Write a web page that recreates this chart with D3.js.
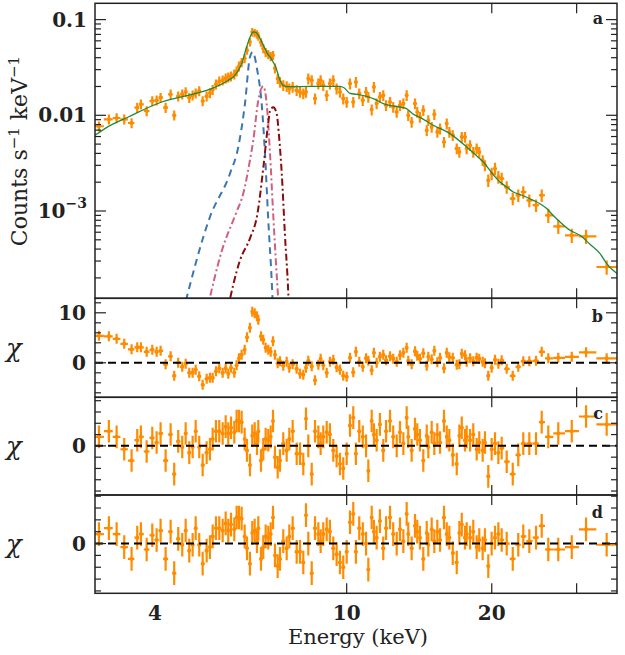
<!DOCTYPE html>
<html>
<head>
<meta charset="utf-8">
<script src="https://cdn.jsdelivr.net/npm/d3@7"></script>
<style>
  body { margin: 0; background: #fff; }
</style>
</head>
<body>
<div id="chart"></div>
<script>
// ---- data ----
// bin centres, keV
const energy = [3.062, 3.211, 3.332, 3.455, 3.579, 3.677, 3.742, 3.846, 3.951, 4.034,
  4.111, 4.211, 4.313, 4.387, 4.472, 4.559, 4.634, 4.714, 4.791, 4.861,
  4.944, 5.026, 5.123, 5.204, 5.272, 5.356, 5.441, 5.530, 5.610, 5.680,
  5.754, 5.846, 5.912, 5.978, 6.055, 6.143, 6.211, 6.300, 6.370, 6.444,
  6.515, 6.556, 6.641, 6.713, 6.791, 6.876, 6.956, 7.033, 7.100, 7.192,
  7.272, 7.387, 7.508, 7.603, 7.726, 7.876, 8.002, 8.128, 8.234, 8.325,
  8.462, 8.596, 8.734, 8.831, 8.942, 9.090, 9.231, 9.380, 9.532, 9.685,
  9.838, 10.00, 10.16, 10.32, 10.45, 10.62, 10.80, 10.97, 11.09, 11.27,
  11.39, 11.54, 11.72, 11.91, 12.07, 12.30, 12.49, 12.70, 12.90, 13.11,
  13.32, 13.42, 13.64, 13.86, 14.01, 14.19, 14.42, 14.66, 14.77, 15.01,
  15.20, 15.42, 15.62, 15.92, 16.13, 16.33, 16.60, 16.92, 17.13, 17.33,
  17.60, 17.74, 18.03, 18.31, 18.61, 18.84, 19.15, 19.36, 19.67, 19.99,
  20.31, 20.64, 20.97, 21.48, 22.11, 22.70, 23.25, 23.93, 24.71, 25.39,
  26.20, 27.48, 29.31, 31.38, 34.63];

// counts s^-1 keV^-1
const flux = [0.00768, 0.00908, 0.00937, 0.00908, 0.00831, 0.01204, 0.01303, 0.01109, 0.01411, 0.01435,
  0.01531, 0.01204, 0.01657, 0.0100, 0.01580, 0.01657, 0.01751, 0.01531, 0.01618, 0.01698,
  0.01793, 0.01411, 0.01580, 0.01710, 0.01855, 0.02108, 0.02266, 0.02321, 0.02435, 0.02495,
  0.02556, 0.02682, 0.02882, 0.03251, 0.03579, 0.03940, 0.04777, 0.05833, 0.07420, 0.07244,
  0.07021, 0.06692, 0.05791, 0.05013, 0.04553, 0.04339, 0.04135, 0.04236, 0.03099, 0.02418,
  0.02228, 0.02058, 0.02009, 0.01901, 0.01976, 0.01825, 0.01751, 0.01686, 0.01751, 0.02418,
  0.02321, 0.01494, 0.02144, 0.02321, 0.02058, 0.01618, 0.02144, 0.02321, 0.01901, 0.01751,
  0.01494, 0.01377, 0.02144, 0.01377, 0.02228, 0.01686, 0.01435, 0.01751, 0.01553, 0.01147,
  0.01976, 0.01326, 0.01553, 0.01618, 0.01272, 0.01377, 0.01221, 0.01083, 0.01272, 0.01326,
  0.01618, 0.0100, 0.00851, 0.01326, 0.01083, 0.00960, 0.01128, 0.00697, 0.00887, 0.00754,
  0.01024, 0.00669, 0.00726, 0.00526, 0.00819, 0.00669, 0.00618, 0.00449, 0.00413, 0.00593,
  0.00593, 0.00449, 0.00486, 0.00413, 0.00449, 0.00413, 0.00339, 0.00300, 0.00209, 0.00246,
  0.00277, 0.00227, 0.00218, 0.00178, 0.00135, 0.00146, 0.00158, 0.00129, 0.00115, 0.00146,
  0.000902, 0.000692, 0.000557, 0.000544, 0.000260];

// relative 1-sigma error on flux
const fluxErr = [0.12, 0.12, 0.12, 0.12, 0.12, 0.12, 0.12, 0.12, 0.12, 0.12,
  0.12, 0.12, 0.12, 0.12, 0.12, 0.12, 0.12, 0.12, 0.12, 0.12,
  0.12, 0.12, 0.12, 0.12, 0.12, 0.12, 0.12, 0.12, 0.12, 0.12,
  0.12, 0.12, 0.12, 0.12, 0.11, 0.11, 0.10, 0.10, 0.10, 0.10,
  0.10, 0.10, 0.10, 0.11, 0.11, 0.11, 0.11, 0.11, 0.12, 0.12,
  0.13, 0.13, 0.13, 0.13, 0.13, 0.13, 0.13, 0.13, 0.13, 0.13,
  0.13, 0.13, 0.13, 0.13, 0.13, 0.13, 0.13, 0.13, 0.13, 0.13,
  0.13, 0.13, 0.13, 0.13, 0.13, 0.13, 0.13, 0.13, 0.13, 0.13,
  0.13, 0.13, 0.13, 0.13, 0.13, 0.13, 0.13, 0.13, 0.13, 0.13,
  0.13, 0.13, 0.13, 0.13, 0.13, 0.13, 0.13, 0.13, 0.13, 0.13,
  0.13, 0.13, 0.13, 0.13, 0.13, 0.13, 0.13, 0.13, 0.13, 0.13,
  0.13, 0.13, 0.13, 0.13, 0.13, 0.13, 0.13, 0.13, 0.15, 0.15,
  0.15, 0.15, 0.15, 0.15, 0.15, 0.15, 0.15, 0.15, 0.15, 0.15,
  0.17, 0.17, 0.17, 0.17, 0.17];

// residuals (chi) for the three models
const chiB = [5.4, 5.3, 4.8, 3.8, 2.7, 3.1, 3.1, 2.2, 2.6, 2.2,
  2.4, -0.3, 1.3, -2.6, 0.0, -0.8, -0.2, -2.0, -2.0, -1.4,
  -2.7, -4.4, -3.2, -3.0, -3.0, -1.7, -1.1, -2.0, -1.1, -2.2,
  -1.0, -2.0, -0.5, 0.9, 1.6, 2.6, 5.1, 7.0, 10.2, 9.9,
  9.3, 8.6, 5.3, 4.6, 3.0, 2.6, 2.2, 4.3, 1.6, -0.1,
  0.3, -0.6, 0.2, -1.0, -0.3, -1.2, -2.2, -2.4, -1.0, 0.4,
  -0.7, -3.5, -0.4, 0.8, -0.5, -2.0, 0.2, 0.6, -0.9, -1.4,
  -2.6, -2.8, 1.0, -1.9, 2.2, 0.2, -0.8, 0.9, 0.4, -1.5,
  2.0, 0.0, 1.2, 1.6, 0.5, 1.3, 0.8, 0.2, 1.5, 2.0,
  3.0, 0.4, -0.3, 2.3, 1.4, 0.8, 1.9, -0.6, 1.2, 0.7,
  2.4, 0.1, 1.0, -1.1, 2.0, 1.1, 1.0, -0.4, -0.3, 1.8,
  1.5, 0.2, 0.9, 0.3, 1.0, 0.8, 0.2, -0.1, -2.6, -1.0,
  0.6, -0.2, 0.5, -1.2, -2.6, -0.8, 0.3, 0.3, 0.4, 2.2,
  0.9, 1.0, 1.2, 2.1, 0.9];

const chiC = [0.8, 1.3, 0.8, -0.3, -1.3, 0.5, 0.8, -0.5, 0.7, 0.3,
  1.1, -1.3, 1.0, -2.5, 0.4, -0.1, 1.1, -0.6, -0.1, 1.3,
  -0.1, -1.7, -0.6, -0.3, 0.6, 1.3, 1.3, 1.1, 1.7, 1.1,
  1.6, 1.2, 2.2, 2.2, 2.1, 0.6, -0.4, -1.7, 0.9, 1.1,
  0.2, 1.3, -1.3, -0.3, 0.6, 0.5, 0.8, 2.2, -1.0, -1.9,
  -1.3, 0.2, -0.4, 0.6, 1.3, -0.7, -0.7, -1.6, 2.4, 0.0,
  -2.5, 1.3, 0.8, 0.2, 0.8, 1.2, 1.0, -0.4, -0.9, -1.6,
  -2.0, -0.7, 1.8, 2.5, -0.7, 1.3, 0.8, 0.0, -2.2, 2.2,
  1.0, 0.5, 1.9, -0.4, 1.3, 2.2, 0.8, 0.0, 1.2, 0.2,
  2.5, 0.8, -0.4, 1.5, 1.0, 0.5, -1.3, 0.9, -0.1, 1.2,
  0.2, 1.0, 0.3, 2.2, 0.8, 0.5, -0.8, -1.6, 0.9, 1.6,
  0.5, 0.8, 0.5, 1.0, -0.3, 0.3, -0.4, 0.3, -2.7, -0.3,
  0.2, -0.6, -0.2, -1.4, -2.5, -0.8, 0.2, 0.2, 0.2, 2.1,
  0.8, 1.1, 1.3, 2.6, 1.9];

const chiD = [0.8, 1.3, 0.8, -0.3, -1.3, 0.5, 0.8, -0.5, 0.7, 0.3,
  1.1, -1.3, 1.0, -2.5, 0.4, -0.1, 1.1, -0.6, -0.1, 1.3,
  -0.1, -1.7, -0.6, -0.3, 0.6, 1.3, 1.3, 1.1, 1.7, 1.1,
  1.6, 1.2, 2.2, 2.2, 2.1, 0.6, -0.4, -1.7, 0.9, 1.1,
  0.2, 1.3, -1.3, -0.3, 0.6, 0.5, 0.8, 2.2, -1.0, -1.9,
  -1.3, 0.2, -0.4, 0.6, 1.3, -0.7, -0.7, -1.6, 2.4, 0.0,
  -2.5, 1.3, 0.8, 0.2, 0.8, 1.2, 1.0, -0.4, -0.9, -1.6,
  -2.0, -0.7, 1.8, 2.5, -0.7, 1.3, 0.8, 0.0, -2.2, 2.2,
  1.0, 0.5, 1.9, -0.4, 1.3, 2.2, 0.8, 0.0, 1.2, 0.2,
  2.5, 0.8, -0.4, 1.5, 1.0, 0.5, -1.3, 0.9, -0.1, 1.2,
  0.2, 1.0, 0.3, 2.2, 0.8, 0.5, -0.8, -1.6, 0.9, 1.6,
  0.5, 0.8, 0.5, 1.0, -0.3, 0.3, -0.4, 0.3, -1.9, 0.0,
  0.5, 0.8, 0.3, 0.0, -1.3, -0.1, 0.6, 0.2, 0.5, 1.5,
  -0.5, -0.5, -0.3, 1.2, -0.1];

// best-fit total model (green)
const modelE = [3.005, 3.150, 3.523, 4.131, 4.844, 5.247, 5.680, 5.865, 6.055, 6.201,
  6.300, 6.401, 6.484, 6.556, 6.672, 6.769, 6.866, 6.965, 7.042, 7.100,
  7.185, 7.272, 7.377, 7.482, 8.002, 8.804, 9.685, 9.872, 10.16, 10.49,
  11.00, 11.45, 11.91, 12.30, 12.90, 13.28, 13.75, 14.19, 15.12, 16.38,
  17.74, 18.46, 19.21, 20.03, 20.80, 21.51, 22.17, 23.11, 24.39, 25.18,
  26.00, 26.80, 27.71, 29.07, 30.49, 31.98, 33.55, 34.63, 36.38];
const modelFlux = [0.00618, 0.00726, 0.00960, 0.01377, 0.01686, 0.01901, 0.02321, 0.02618, 0.03468, 0.05172,
  0.06531, 0.07420, 0.07367, 0.06856, 0.05791, 0.04977, 0.04339, 0.03940, 0.03579, 0.03330,
  0.02813, 0.02321, 0.02058, 0.01995, 0.01995, 0.02009, 0.02009, 0.01938, 0.01698, 0.01657,
  0.01580, 0.01470, 0.01326, 0.01272, 0.01221, 0.01183, 0.01024, 0.00953, 0.00786, 0.00644,
  0.00466, 0.00391, 0.00325, 0.00248, 0.00201, 0.00177, 0.00158, 0.00146, 0.00129, 0.00119,
  0.00106, 0.000902, 0.000768, 0.000628, 0.000557, 0.000449, 0.000359, 0.000282, 0.000222];

// line components
const lineBlueE = [4.574, 5.204, 5.726, 5.958, 6.152, 6.300, 6.381, 6.524, 6.662, 6.769, 6.876, 6.989, 7.033];
const lineBlueFlux = [8.74e-5, 8.66e-4, 2.46e-3, 4.66e-3, 0.01326, 0.04066, 0.04586, 0.02953, 0.01326, 3.98e-3, 8.0e-4, 1.888e-4, 9.17e-5];
const linePinkE = [5.130, 5.511, 5.893, 6.101, 6.300, 6.401, 6.556, 6.672, 6.713, 6.823, 6.931, 7.042, 7.214, 7.237];
const linePinkFlux = [9.17e-5, 3.88e-4, 9.46e-4, 1.52e-3, 3.39e-3, 5.48e-3, 0.01435, 0.01962, 0.02009, 0.01335, 4.11e-3, 9.02e-4, 1.166e-4, 9.17e-5];
const lineRedE = [5.645, 6.006, 6.300, 6.530, 6.713, 6.866, 6.931, 7.042, 7.157, 7.237, 7.331, 7.447, 7.566, 7.592];
const lineRedFlux = [8.74e-5, 3.05e-4, 5.18e-4, 9.39e-4, 2.79e-3, 7.86e-3, 0.01101, 0.01212, 0.01042, 6.18e-3, 2.54e-3, 5.57e-4, 1.37e-4, 8.74e-5];

// ticks and labels
const xTickValues = [10, 20, 30];
const xTickLabels = [4, 10, 20];
const yTicksA = [0.1, 0.01, 0.001];
const yLabelsA = [['0.1', ''], ['0.01', ''], ['10', '\u22123']];
const panelLetters = ['a', 'b', 'c', 'd'];

// ---- layout ----
const W = 625, H = 655;
const left = 95, right = 617;
const orange = '#ff8c00';

const svg = d3.select('#chart')
  .append('svg')
  .attr('width', W)
  .attr('height', H)
  .style('font-family', '"DejaVu Serif", serif');

const x = d3.scaleLog().domain([3.005, 36.38]).range([left, right]);

const panels = [
  { top: 3.3, bottom: 298.3 },
  { top: 298.3, bottom: 397.3 },
  { top: 397.3, bottom: 495 },
  { top: 495, bottom: 593.3 }
];

const yA = d3.scaleLog().domain([1.224e-4, 0.148]).range([panels[0].bottom, panels[0].top]);
const yB = d3.scaleLinear().domain([-6.9, 12.9]).range([panels[1].bottom, panels[1].top]);
const yC = d3.scaleLinear().domain([-4.35, 4.3]).range([panels[2].bottom, panels[2].top]);
const yD = d3.scaleLinear().domain([-4.2, 4.1]).range([panels[3].bottom, panels[3].top]);

// bin edges halfway (in log) between neighbouring centres
const n = energy.length;
const binLo = energy.map((e, i) => i > 0 ? Math.sqrt(energy[i - 1] * e) : e / Math.sqrt(energy[1] / e));
const binHi = energy.map((e, i) => i < n - 1 ? Math.sqrt(e * energy[i + 1]) : e * Math.sqrt(e / energy[n - 2]));

// clip paths
panels.forEach((p, i) => {
  svg.append('clipPath').attr('id', 'clip' + i)
    .append('rect')
    .attr('x', left).attr('y', p.top)
    .attr('width', right - left).attr('height', p.bottom - p.top);
});

// ---- panel a ----
const gA = svg.append('g').attr('clip-path', 'url(#clip0)');

function drawComponent(es, fs, color, dash) {
  const pts = es.map((e, i) => [e, fs[i]]);
  gA.append('path')
    .datum(pts)
    .attr('d', d3.line().x(d => x(d[0])).y(d => yA(d[1])).curve(d3.curveMonotoneX))
    .attr('fill', 'none')
    .attr('stroke', color)
    .attr('stroke-width', 2)
    .attr('stroke-dasharray', dash);
}
drawComponent(lineBlueE, lineBlueFlux, '#3b76b0', '7,5');
drawComponent(linePinkE, linePinkFlux, '#d0607c', '7,3,2,3');
drawComponent(lineRedE, lineRedFlux, '#8b0a0a', '7,3,2,3');

const dataA = gA.append('g').attr('stroke', orange).attr('stroke-width', 2.2);
energy.forEach((e, i) => {
  const f = flux[i];
  dataA.append('line')
    .attr('x1', x(e)).attr('x2', x(e))
    .attr('y1', yA(f * (1 - fluxErr[i]))).attr('y2', yA(f * (1 + fluxErr[i])));
  dataA.append('line')
    .attr('x1', x(binLo[i])).attr('x2', x(binHi[i]))
    .attr('y1', yA(f)).attr('y2', yA(f));
  dataA.append('circle')
    .attr('cx', x(e)).attr('cy', yA(f)).attr('r', 2)
    .attr('fill', orange).attr('stroke', 'none');
});

gA.append('path')
  .datum(modelE.map((e, i) => [e, modelFlux[i]]))
  .attr('d', d3.line().x(d => x(d[0])).y(d => yA(d[1])).curve(d3.curveMonotoneX))
  .attr('fill', 'none')
  .attr('stroke', '#1e8a3a')
  .attr('stroke-width', 1.3);

// ---- residual panels ----
function drawResiduals(idx, y, chi) {
  const g = svg.append('g').attr('clip-path', 'url(#clip' + idx + ')');
  const gd = g.append('g').attr('stroke', orange).attr('stroke-width', 2.2);
  energy.forEach((e, i) => {
    gd.append('line')
      .attr('x1', x(e)).attr('x2', x(e))
      .attr('y1', y(chi[i] - 1)).attr('y2', y(chi[i] + 1));
    gd.append('line')
      .attr('x1', x(binLo[i])).attr('x2', x(binHi[i]))
      .attr('y1', y(chi[i])).attr('y2', y(chi[i]));
    gd.append('circle')
      .attr('cx', x(e)).attr('cy', y(chi[i])).attr('r', 2)
      .attr('fill', orange).attr('stroke', 'none');
  });
  g.append('line')
    .attr('x1', left).attr('x2', right)
    .attr('y1', y(0)).attr('y2', y(0))
    .attr('stroke', '#000')
    .attr('stroke-width', 2)
    .attr('stroke-dasharray', '8,5');
}
drawResiduals(1, yB, chiB);
drawResiduals(2, yC, chiC);
drawResiduals(3, yD, chiD);

// ---- frames and ticks ----
const axisColor = '#222';
function drawFrame(p, y, ticks, isMajor) {
  const g = svg.append('g').attr('stroke', axisColor);
  ticks.forEach(v => {
    const len = isMajor(v) ? 11 : 6;
    const yy = y(v);
    g.append('line').attr('x1', left).attr('x2', left + len).attr('y1', yy).attr('y2', yy).attr('stroke-width', 1.2);
    g.append('line').attr('x1', right - len).attr('x2', right).attr('y1', yy).attr('y2', yy).attr('stroke-width', 1.2);
  });
  xTickValues.forEach(v => {
    const xx = x(v);
    g.append('line').attr('x1', xx).attr('x2', xx).attr('y1', p.top).attr('y2', p.top + 10).attr('stroke-width', 1.2);
    g.append('line').attr('x1', xx).attr('x2', xx).attr('y1', p.bottom - 10).attr('y2', p.bottom).attr('stroke-width', 1.2);
  });
  g.append('rect')
    .attr('x', left).attr('y', p.top)
    .attr('width', right - left).attr('height', p.bottom - p.top)
    .attr('fill', 'none')
    .attr('stroke-width', 1.5);
}

const isDecade = v => Math.abs(Math.log10(v) - Math.round(Math.log10(v))) < 1e-6;
drawFrame(panels[0], yA, yA.ticks(), isDecade);
drawFrame(panels[1], yB, d3.range(-6, 13, 2), v => v === 0 || v === 10);
drawFrame(panels[2], yC, d3.range(-4, 5, 1), v => v === 0);
drawFrame(panels[3], yD, d3.range(-4, 5, 1), v => v === 0);

// ---- labels ----
const tickFont = { size: 20, weight: 'bold' };

yTicksA.forEach((v, i) => {
  const t = svg.append('text')
    .attr('x', 87).attr('y', yA(v))
    .attr('text-anchor', 'end')
    .attr('dominant-baseline', 'central')
    .attr('font-size', tickFont.size)
    .attr('font-weight', tickFont.weight)
    .attr('fill', '#222')
    .text(yLabelsA[i][0]);
  if (yLabelsA[i][1]) {
    t.append('tspan')
      .attr('dy', -8)
      .attr('font-size', 14)
      .text(yLabelsA[i][1]);
  }
});

function residualLabel(y, v) {
  svg.append('text')
    .attr('x', 86).attr('y', y(v))
    .attr('text-anchor', 'end')
    .attr('dominant-baseline', 'central')
    .attr('font-size', tickFont.size)
    .attr('font-weight', tickFont.weight)
    .attr('fill', '#222')
    .text(v);
}
residualLabel(yB, 10);
residualLabel(yB, 0);
residualLabel(yC, 0);
residualLabel(yD, 0);

xTickLabels.forEach(v => {
  svg.append('text')
    .attr('x', x(v)).attr('y', 620)
    .attr('text-anchor', 'middle')
    .attr('font-size', tickFont.size)
    .attr('font-weight', tickFont.weight)
    .attr('fill', '#222')
    .text(v);
});

svg.append('text')
  .attr('x', 358).attr('y', 644)
  .attr('text-anchor', 'middle')
  .attr('font-size', 21)
  .attr('fill', '#222')
  .text('Energy (keV)');

const yTitle = svg.append('text')
  .attr('transform', 'translate(27,151) rotate(-90)')
  .attr('text-anchor', 'middle')
  .attr('font-size', 22)
  .attr('fill', '#222');
yTitle.append('tspan').text('Counts s');
yTitle.append('tspan').attr('dy', -8).attr('font-size', 15).text('\u22121');
yTitle.append('tspan').attr('dy', 8).text(' keV');
yTitle.append('tspan').attr('dy', -8).attr('font-size', 15).text('\u22121');

[1, 2, 3].forEach(i => {
  const p = panels[i];
  svg.append('text')
    .attr('x', 14).attr('y', (p.top + p.bottom) / 2)
    .attr('text-anchor', 'middle')
    .attr('dominant-baseline', 'central')
    .attr('font-size', 26)
    .attr('font-style', 'italic')
    .attr('fill', '#222')
    .text('\u03c7');
});

const letterY = [24, 322, 419, 518];
panelLetters.forEach((l, i) => {
  svg.append('text')
    .attr('x', 603).attr('y', letterY[i])
    .attr('text-anchor', 'end')
    .attr('font-size', 16)
    .attr('font-weight', 'bold')
    .attr('fill', '#222')
    .text(l);
});
</script>
</body>
</html>
